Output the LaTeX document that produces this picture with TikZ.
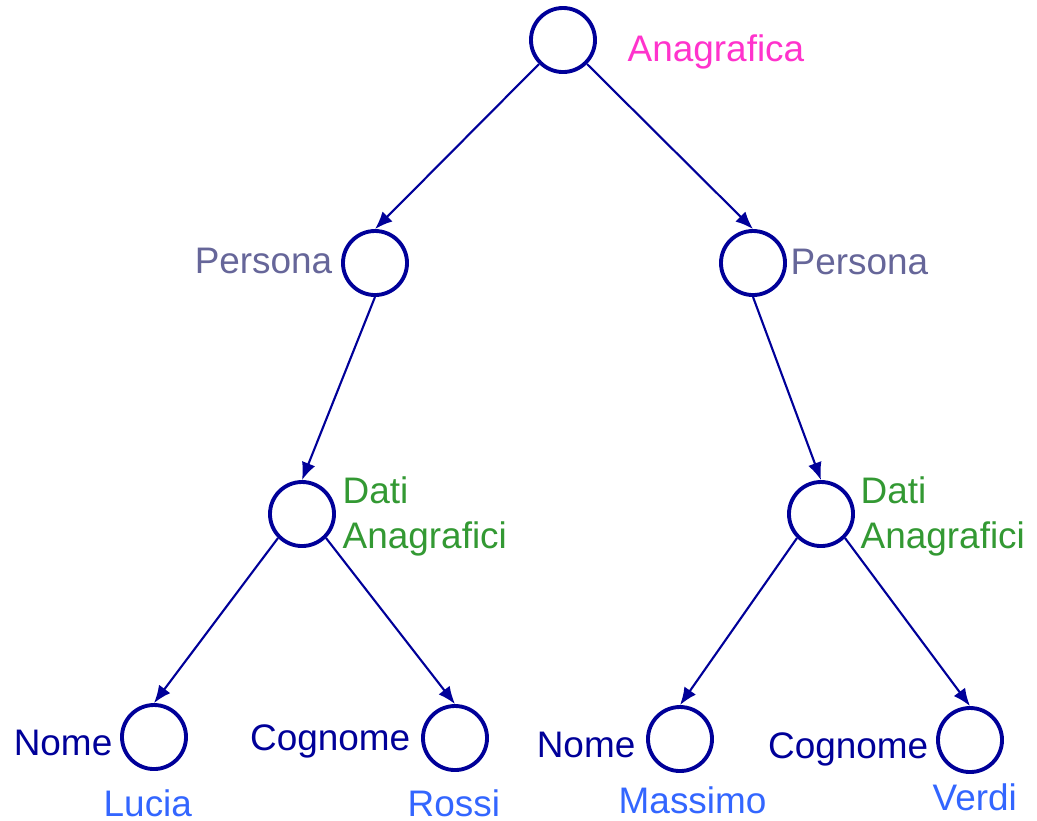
\documentclass[tikz,border=0pt]{standalone}
\usepackage{fontspec}
\setmainfont{Liberation Sans}
\usetikzlibrary{arrows.meta}

\definecolor{treeblue}{RGB}{0,0,153}
\definecolor{rootpink}{RGB}{255,51,204}
\definecolor{persgray}{RGB}{102,102,153}
\definecolor{datigreen}{RGB}{51,153,51}
\definecolor{valblue}{RGB}{51,102,255}

\tikzset{
  elem/.style={circle, draw=treeblue, line width=1.1pt, minimum size=0.64cm, inner sep=0pt},
  link/.style={draw=treeblue, line width=0.6pt, -{Latex[length=5pt,width=4pt]}},
  lbl/.style={inner sep=0pt, font=\fontsize{10.5}{12.8}\selectfont},
}

\begin{document}
\begin{tikzpicture}[x=0.01cm, y=-0.01cm]
\useasboundingbox (0,0) rectangle (1037,820);

% circles
\node[elem] (root) at (563,40) {};
\node[elem] (persL) at (375,263) {};
\node[elem] (persR) at (753,263) {};
\node[elem] (datiL) at (302,514) {};
\node[elem] (datiR) at (821,514) {};
\node[elem] (nomeL) at (154,737) {};
\node[elem] (cognL) at (455,738) {};
\node[elem] (nomeR) at (680,739) {};
\node[elem] (cognR) at (970,740) {};

% arrows
\draw[link] (root.south west) -- (persL.north);
\draw[link] (root.south east) -- (persR.north);
\draw[link] (persL.south) -- (datiL.north);
\draw[link] (persR.south) -- (datiR.north);
\draw[link] (datiL.south west) -- (nomeL.north);
\draw[link] (datiL.south east) -- (cognL.north);
\draw[link] (datiR.south west) -- (nomeR.north);
\draw[link] (datiR.south east) -- (cognR.north);

% labels
\node[lbl, anchor=base west, text=rootpink] (tRoot) at (627,61) {Anagrafica};
\node[lbl, anchor=base east, text=persgray] (tPersL) at (333,273) {Persona};
\node[lbl, anchor=base west, text=persgray] (tPersR) at (790,274) {Persona};
\node[lbl, anchor=north west, align=left, text=datigreen] (tDatiL) at (342,476) {Dati\\Anagrafici};
\node[lbl, anchor=north west, align=left, text=datigreen] (tDatiR) at (860,476) {Dati\\Anagrafici};
\node[lbl, anchor=base east, text=treeblue] (tNomeL) at (113,755) {Nome};
\node[lbl, anchor=base east, text=treeblue] (tCognL) at (411,750) {Cognome};
\node[lbl, anchor=base east, text=treeblue] (tNomeR) at (636,757) {Nome};
\node[lbl, anchor=base east, text=treeblue] (tCognR) at (929,758) {Cognome};

% values
\node[lbl, anchor=base west, text=valblue] (vNomeL) at (103,816) {Lucia};
\node[lbl, anchor=base west, text=valblue] (vCognL) at (407,816) {Rossi};
\node[lbl, anchor=base west, text=valblue] (vNomeR) at (618,813) {Massimo};
\node[lbl, anchor=base west, text=valblue] (vCognR) at (932,810) {Verdi};
\end{tikzpicture}
\end{document}
